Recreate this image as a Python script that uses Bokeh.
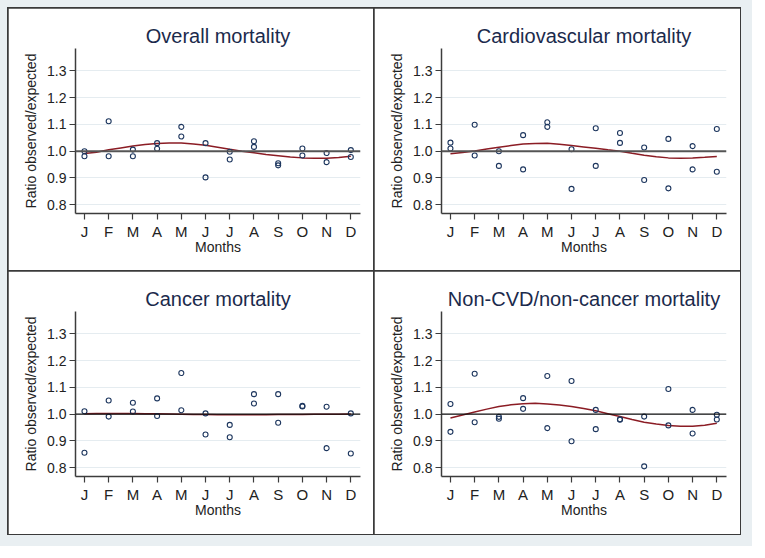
from bokeh.plotting import figure
from bokeh.layouts import column, row
from bokeh.models import Range1d, FixedTicker, PrintfTickFormatter, Span
from bokeh.embed import file_html
from bokeh.resources import INLINE

months = list(range(1, 13))
month_labels = ["J", "F", "M", "A", "M", "J", "J", "A", "S", "O", "N", "D"]
y_ticks = [0.8, 0.9, 1.0, 1.1, 1.2, 1.3]

# observed/expected ratios, two values per month
overall_a = [1.000, 1.112, 1.006, 1.030, 1.091, 1.030, 0.998, 1.037, 0.955, 1.010, 0.993, 1.004]
overall_b = [0.981, 0.981, 0.981, 1.009, 1.055, 0.902, 0.969, 1.016, 0.947, 0.984, 0.959, 0.978]
cardio_a = [1.032, 1.099, 1.000, 1.060, 1.108, 1.007, 1.086, 1.068, 1.014, 1.046, 1.019, 1.083]
cardio_b = [1.010, 0.984, 0.945, 0.932, 1.091, 0.859, 0.945, 1.031, 0.892, 0.861, 0.932, 0.923]
cancer_a = [1.011, 1.051, 1.043, 1.059, 1.154, 1.003, 0.960, 1.075, 1.075, 1.031, 1.028, 1.003]
cancer_b = [0.856, 0.991, 1.010, 0.993, 1.015, 0.924, 0.914, 1.040, 0.968, 1.029, 0.873, 0.853]
other_a = [1.038, 1.151, 0.990, 1.060, 1.143, 1.124, 1.016, 0.981, 0.991, 1.094, 1.016, 0.998]
other_b = [0.934, 0.970, 0.983, 1.020, 0.948, 0.899, 0.944, 0.979, 0.805, 0.958, 0.928, 0.980]

# fitted seasonal curves, read at half-month steps
fit_t = [1, 1.5, 2, 2.5, 3, 3.5, 4, 4.5, 5, 5.5, 6, 6.5, 7, 7.5, 8, 8.5, 9, 9.5, 10, 10.5, 11, 11.5, 12]
overall_fit = [0.991, 0.996, 1.005, 1.012, 1.019, 1.025, 1.029, 1.031, 1.031, 1.027, 1.022, 1.015,
               1.007, 1.000, 0.994, 0.988, 0.983, 0.978, 0.975, 0.974, 0.974, 0.976, 0.981]
cardio_fit = [0.990, 0.995, 1.001, 1.008, 1.015, 1.021, 1.027, 1.029, 1.030, 1.026, 1.021, 1.016,
              1.011, 1.005, 1.000, 0.992, 0.985, 0.979, 0.975, 0.974, 0.975, 0.977, 0.980]
cancer_fit = [1.002, 1.003, 1.003, 1.003, 1.003, 1.002, 1.002, 1.001, 1.000, 0.999, 0.999, 0.998,
              0.998, 0.998, 0.998, 0.998, 0.999, 0.999, 0.999, 1.000, 1.000, 1.000, 1.001]
other_fit = [0.986, 0.997, 1.008, 1.019, 1.029, 1.035, 1.039, 1.041, 1.038, 1.034, 1.029, 1.021,
             1.013, 1.002, 0.991, 0.980, 0.970, 0.963, 0.958, 0.955, 0.955, 0.959, 0.966]

titles = ["Overall mortality", "Cardiovascular mortality", "Cancer mortality",
          "Non-CVD/non-cancer mortality"]

FONT = "Liberation Sans"
BG = "#e9eff2"


def panel(title, a, b, fit, ref_color, ref_width):
    p = figure(width=366, height=263, output_backend="svg", toolbar_location=None,
               x_range=Range1d(0.63, 12.4), y_range=Range1d(0.767, 1.384),
               min_border_left=67, min_border_right=14, min_border_top=40,
               min_border_bottom=58, title=title, background_fill_color="white",
               border_fill_color="white",
               styles={"outline": "2px solid #3a3a3a", "outline-offset": "-1px"})
    p.outline_line_color = None
    p.title.align = "center"
    p.title.text_font = FONT
    p.title.text_font_size = "20px"
    p.title.text_font_style = "normal"
    p.title.text_color = "#1b2a4c"
    p.title.standoff = 4

    p.xgrid.visible = False
    p.ygrid.ticker = FixedTicker(ticks=y_ticks)
    p.ygrid.grid_line_color = "#e5ecf0"
    p.ygrid.grid_line_width = 1

    for ax in (p.xaxis[0], p.yaxis[0]):
        ax.axis_line_color = "#3c3c3c"
        ax.axis_line_width = 1.5
        ax.major_tick_line_color = "#3c3c3c"
        ax.major_tick_line_width = 1.2
        ax.major_tick_out = 6
        ax.major_tick_in = 0
        ax.minor_tick_line_color = None
        ax.major_label_text_font = FONT
        ax.major_label_text_color = "#222222"
        ax.axis_label_text_font = FONT
        ax.axis_label_text_font_style = "normal"
        ax.axis_label_text_color = "#222222"
        ax.axis_label_text_font_size = "14px"

    p.xaxis.ticker = FixedTicker(ticks=months)
    p.xaxis.major_label_overrides = {m: l for m, l in zip(months, month_labels)}
    p.xaxis.major_label_text_font_size = "15px"
    p.xaxis.major_label_standoff = 3
    p.xaxis.axis_label = "Months"
    p.xaxis.axis_label_standoff = -4

    p.yaxis.ticker = FixedTicker(ticks=y_ticks)
    p.yaxis.formatter = PrintfTickFormatter(format="%.1f")
    p.yaxis.major_label_text_font_size = "14px"
    p.yaxis.major_label_standoff = 3
    p.yaxis.axis_label = "Ratio observed/expected"
    p.yaxis.axis_label_standoff = 5

    p.add_layout(Span(location=1.0, dimension="width", line_color=ref_color,
                      line_width=ref_width))
    p.line(fit_t, fit, line_color="#8b1c24", line_width=1.5)
    for ys in (a, b):
        p.scatter(months, ys, marker="circle", size=5, fill_color=None,
                  line_color="#1d365e", line_width=1.1)
    return p


p1 = panel(titles[0], overall_a, overall_b, overall_fit, "#555555", 2)
p2 = panel(titles[1], cardio_a, cardio_b, cardio_fit, "#555555", 2)
p3 = panel(titles[2], cancer_a, cancer_b, cancer_fit, "#111111", 1.2)
p4 = panel(titles[3], other_a, other_b, other_fit, "#111111", 1.2)

page = column(row(p1, p2), row(p3, p4), width=732, height=526,
              styles={"transform": "translate(8px, 8px)",
                      "box-shadow": "0 0 0 12px " + BG})

open("out.html", "w").write(file_html(page, INLINE))
